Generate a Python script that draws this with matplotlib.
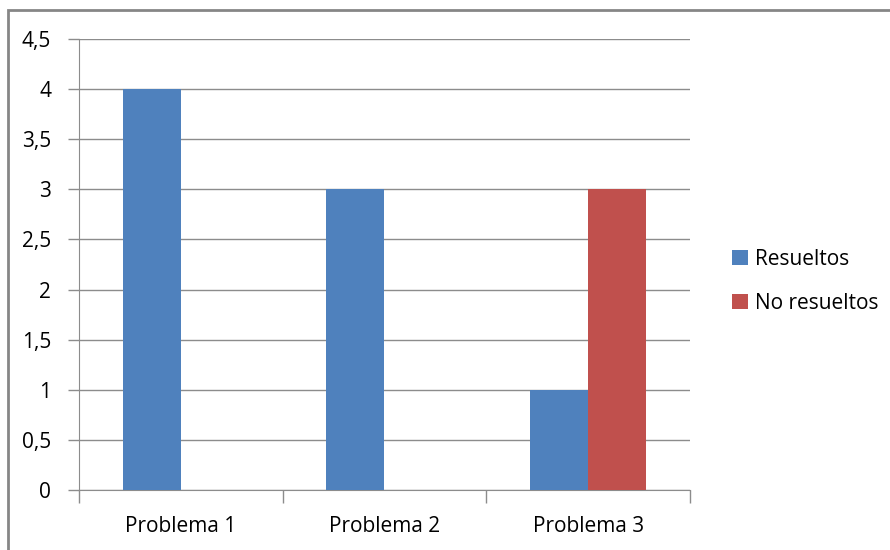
import matplotlib.pyplot as plt
from matplotlib.patches import Rectangle
import numpy as np

categories = ['Problema 1', 'Problema 2', 'Problema 3']
resueltos = [4, 3, 1]
no_resueltos = [0, 0, 3]
series_names = ['Resueltos', 'No resueltos']
yticks = [0, 0.5, 1, 1.5, 2, 2.5, 3, 3.5, 4, 4.5]

plt.rcParams['font.family'] = ['Open Sans', 'DejaVu Sans']
FS = 15

fig = plt.figure(figsize=(8.9, 5.5), dpi=100)
ax = fig.add_axes([79 / 890, 60 / 550, 611 / 890, 451 / 550])

x = np.arange(len(categories)) + 0.5
w = 0.285
ax.bar(x - w / 2, resueltos, w, color='#4F81BD', label=series_names[0], zorder=3)
ax.bar(x + w / 2, no_resueltos, w, color='#C0504D', label=series_names[1], zorder=3)

ax.set_xlim(0, 3)
ax.set_ylim(0, 4.5)
ax.set_yticks(yticks)
ax.set_yticklabels([f'{v:g}'.replace('.', ',') for v in yticks], fontsize=FS)
ax.yaxis.grid(True, color='#8c8c8c', linewidth=1, zorder=0)
ax.tick_params(axis='y', length=8, color='#8c8c8c', width=1, pad=12)

ax.set_xticks(x)
ax.set_xticklabels(categories, fontsize=FS)
ax.tick_params(axis='x', length=0, pad=19)
ax.set_xticks([0, 1, 2, 3], minor=True)
ax.tick_params(axis='x', which='minor', length=9, color='#8c8c8c', width=1)

for side in ['top', 'right']:
    ax.spines[side].set_visible(False)
for side in ['left', 'bottom']:
    ax.spines[side].set_color('#8c8c8c')

leg = ax.legend(loc='center left', bbox_to_anchor=(1.055, 0.463), frameon=False,
                fontsize=FS, handlelength=0.75, handleheight=0.75,
                handletextpad=0.35, labelspacing=1.1, borderaxespad=0)

# outer chart frame
fig.patches.append(Rectangle((8 / 890, -0.1), 1.0, (540 / 550) + 0.1,
                             transform=fig.transFigure, fill=False,
                             edgecolor='#868686', linewidth=2))

fig.savefig('out.png', dpi=100)
